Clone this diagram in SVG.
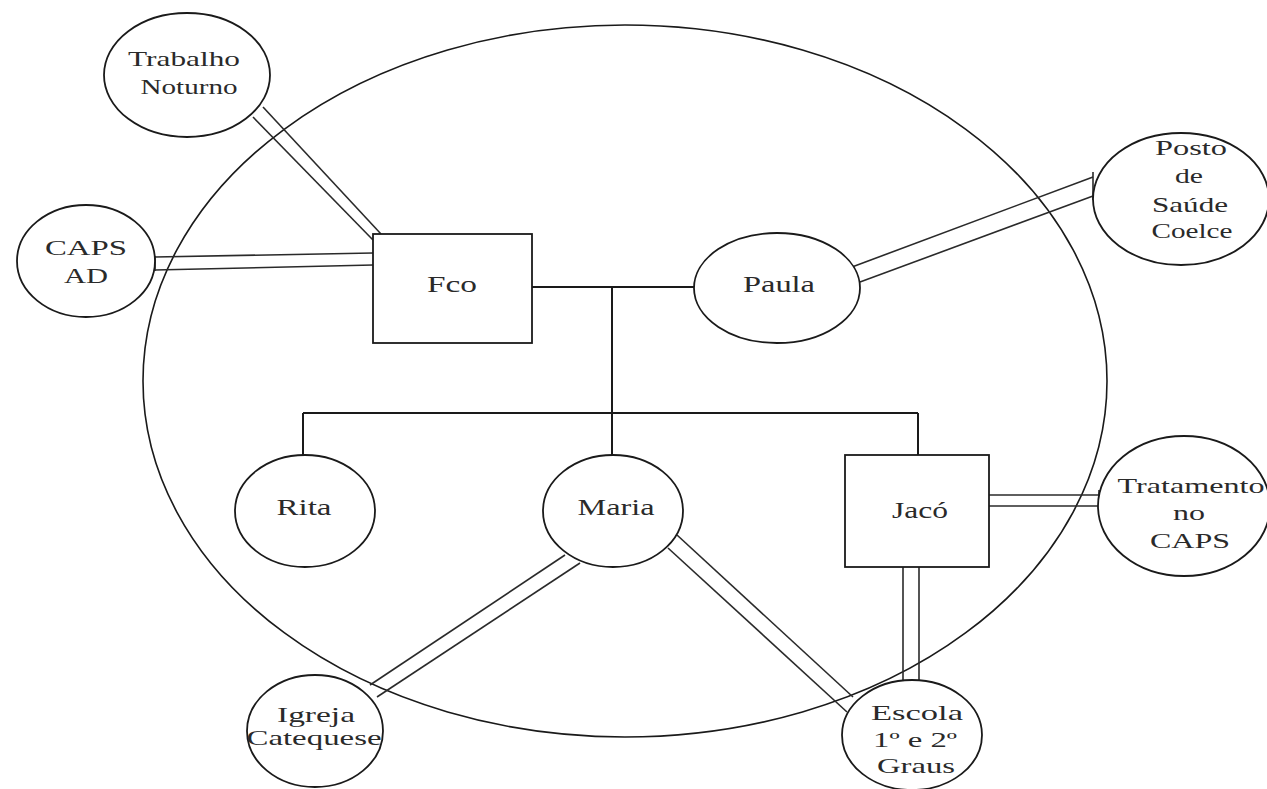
<svg xmlns="http://www.w3.org/2000/svg" width="1267" height="789" viewBox="0 0 1267 789">
  <style>
    .bg { fill: #ffffff; }
    .eco { fill: none; stroke: #1a1a1a; stroke-width: 1.6; }
    .node { fill: #ffffff; stroke: #1a1a1a; stroke-width: 1.8; }
    .fam { fill: none; stroke: #1a1a1a; stroke-width: 2; }
    .tie { fill: none; stroke: #2a2a2a; stroke-width: 1.6; }
    text { font-family: "Liberation Serif", "Times New Roman", serif; fill: #2a2a2a; text-anchor: middle; }
    .big { font-size: 24px; }
    .sm { font-size: 22px; }
  </style>

  <rect class="bg" x="0" y="0" width="1267" height="789"/>

  <!-- household boundary -->
  <ellipse id="household" class="eco" cx="625" cy="381" rx="482" ry="356"/>

  <g id="connectors">
    <!-- family lines -->
    <line class="fam" x1="532" y1="287" x2="694" y2="287"/>
    <line class="fam" x1="612" y1="287" x2="612" y2="455"/>
    <line class="fam" x1="303" y1="413" x2="918" y2="413"/>
    <line class="fam" x1="303" y1="413" x2="303" y2="455"/>
    <line class="fam" x1="918" y1="413" x2="918" y2="455"/>

    <!-- Trabalho Noturno - Fco -->
    <line class="tie" x1="253" y1="117" x2="373" y2="240"/>
    <line class="tie" x1="263" y1="107" x2="381" y2="234"/>

    <!-- CAPS AD - Fco -->
    <line class="tie" x1="155" y1="257" x2="373" y2="253"/>
    <line class="tie" x1="155" y1="270" x2="373" y2="265"/>
    <line class="tie" x1="155" y1="256" x2="155" y2="271"/>

    <!-- Paula - Posto de Saude -->
    <line class="tie" x1="852" y1="267" x2="1093" y2="177"/>
    <line class="tie" x1="860" y1="282" x2="1093" y2="196"/>
    <line class="tie" x1="1093" y1="172" x2="1093" y2="200"/>

    <!-- Jaco - Tratamento no CAPS -->
    <line class="tie" x1="989" y1="495" x2="1099" y2="495"/>
    <line class="tie" x1="989" y1="506" x2="1099" y2="506"/>
    <line class="tie" x1="1099" y1="490" x2="1099" y2="511"/>

    <!-- Jaco - Escola -->
    <line class="tie" x1="903" y1="567" x2="903" y2="683"/>
    <line class="tie" x1="919" y1="567" x2="919" y2="683"/>

    <!-- Maria - Escola -->
    <line class="tie" x1="668" y1="548" x2="847" y2="712"/>
    <line class="tie" x1="677" y1="535" x2="853" y2="697"/>

    <!-- Maria - Igreja -->
    <line class="tie" x1="370" y1="685" x2="565" y2="555"/>
    <line class="tie" x1="377" y1="697" x2="580" y2="563"/>
  </g>

  <g id="trabalho">
    <ellipse class="node" cx="187" cy="75" rx="83" ry="62"/>
    <text class="sm" x="184" y="66" textLength="112" lengthAdjust="spacingAndGlyphs">Trabalho</text>
    <text class="sm" x="189" y="94" textLength="97" lengthAdjust="spacingAndGlyphs">Noturno</text>
  </g>

  <g id="caps-ad">
    <ellipse class="node" cx="86" cy="261" rx="69" ry="56"/>
    <text class="sm" x="86" y="255" textLength="82" lengthAdjust="spacingAndGlyphs">CAPS</text>
    <text class="sm" x="86" y="283" textLength="44" lengthAdjust="spacingAndGlyphs">AD</text>
  </g>

  <g id="fco">
    <rect class="node" x="373" y="234" width="159" height="109"/>
    <text class="big" x="452" y="292" textLength="50" lengthAdjust="spacingAndGlyphs">Fco</text>
  </g>

  <g id="paula">
    <ellipse class="node" cx="777" cy="288" rx="83" ry="55"/>
    <text class="big" x="779" y="292" textLength="72" lengthAdjust="spacingAndGlyphs">Paula</text>
  </g>

  <g id="posto">
    <ellipse class="node" cx="1181" cy="199" rx="88" ry="66"/>
    <text class="sm" x="1191" y="155" textLength="72" lengthAdjust="spacingAndGlyphs">Posto</text>
    <text class="sm" x="1189" y="183" textLength="28" lengthAdjust="spacingAndGlyphs">de</text>
    <text class="sm" x="1190" y="212" textLength="76" lengthAdjust="spacingAndGlyphs">Saúde</text>
    <text class="sm" x="1192" y="238" textLength="81" lengthAdjust="spacingAndGlyphs">Coelce</text>
  </g>

  <g id="rita">
    <ellipse class="node" cx="305" cy="511" rx="70" ry="56"/>
    <text class="big" x="304" y="515" textLength="55" lengthAdjust="spacingAndGlyphs">Rita</text>
  </g>

  <g id="maria">
    <ellipse class="node" cx="613" cy="511" rx="70" ry="56"/>
    <text class="big" x="616" y="515" textLength="77" lengthAdjust="spacingAndGlyphs">Maria</text>
  </g>

  <g id="jaco">
    <rect class="node" x="845" y="455" width="144" height="112"/>
    <text class="big" x="920" y="518" textLength="56" lengthAdjust="spacingAndGlyphs">Jacó</text>
  </g>

  <g id="tratamento">
    <ellipse class="node" cx="1184" cy="506" rx="86" ry="70"/>
    <text class="sm" x="1191" y="493" textLength="147" lengthAdjust="spacingAndGlyphs">Tratamento</text>
    <text class="sm" x="1189" y="520" textLength="32" lengthAdjust="spacingAndGlyphs">no</text>
    <text class="sm" x="1190" y="548" textLength="80" lengthAdjust="spacingAndGlyphs">CAPS</text>
  </g>

  <g id="igreja">
    <ellipse class="node" cx="315" cy="731" rx="68" ry="56"/>
    <text class="sm" x="316" y="722" textLength="78" lengthAdjust="spacingAndGlyphs">Igreja</text>
    <text class="sm" x="314" y="745" textLength="135" lengthAdjust="spacingAndGlyphs">Catequese</text>
  </g>

  <g id="escola">
    <ellipse class="node" cx="912" cy="735" rx="70" ry="55"/>
    <text class="sm" x="917" y="720" textLength="92" lengthAdjust="spacingAndGlyphs">Escola</text>
    <text class="sm" x="915" y="747" textLength="84" lengthAdjust="spacingAndGlyphs">1º e 2º</text>
    <text class="sm" x="916" y="773" textLength="78" lengthAdjust="spacingAndGlyphs">Graus</text>
  </g>
</svg>
